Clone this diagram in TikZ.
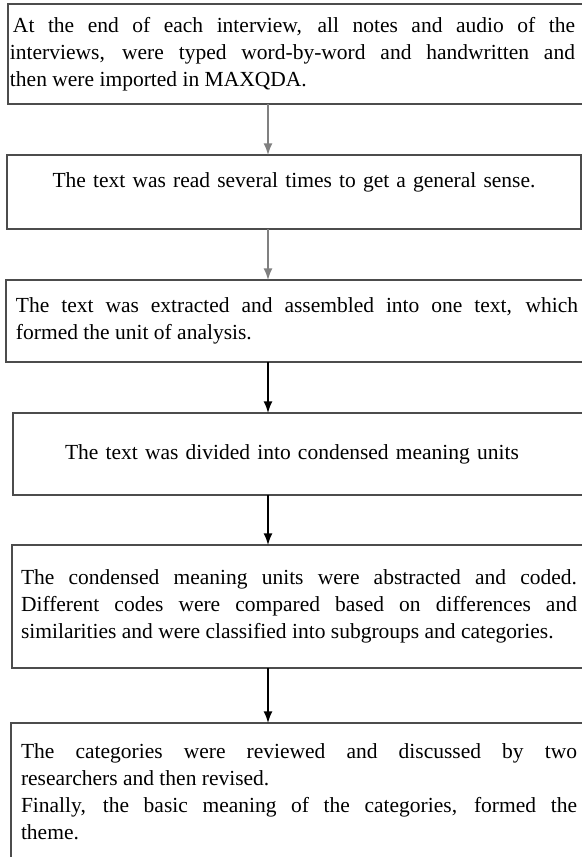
\documentclass[tikz,border=0pt]{standalone}
\usepackage{fontspec}
\setmainfont{Liberation Serif}
\usepackage{tikz}
\tolerance=9999
\hyphenpenalty=10000
\exhyphenpenalty=10000
\tikzset{rpad/.style={execute at begin node={\advance\rightskip by #1}}}

\begin{document}
\begin{tikzpicture}[every node/.style={draw=black!70,outer sep=0pt,line width=0.75pt}]
\tikzstyle{stage}=[anchor=north west,inner ysep=0pt,align=justify,font=\fontsize{10.75pt}{13.4pt}\selectfont]
\tikzstyle{flow}=[line width=1pt,-latex]

\useasboundingbox (0,0) rectangle (291pt,-428.5pt);
\clip (0,0) rectangle (291pt,-428.5pt);

\coordinate (spine) at (134pt,0);

\node (typed) at (4pt,-2pt) [stage,text width=304pt,inner xsep=1pt,minimum height=50pt,rpad=21.5pt] {\hspace*{1.5pt}At the end of each interview, all notes and audio of the\linebreak interviews, were typed word-by-word and handwritten and\linebreak then were imported in MAXQDA.};

\node (read) at (typed.south west) [stage,xshift=-0.5pt,yshift=-25.5pt,text width=285pt,inner xsep=1pt,minimum height=37pt,align=center,text depth=11.5pt] {The text was read several times to get a general sense.};

\node (extracted) at (read.south west) [stage,xshift=-0.5pt,yshift=-25.5pt,text width=297pt,inner xsep=5pt,minimum height=41pt,rpad=16pt] {The text was extracted and assembled into one text, which\linebreak formed the unit of analysis.};

\node (divided) at (extracted.south west) [stage,xshift=3.5pt,yshift=-25.5pt,text width=301.5pt,inner xsep=1pt,minimum height=41pt,align=center,rpad=24.5pt] {The text was divided into condensed meaning units};

\node (coded) at (divided.south west) [stage,xshift=-0.5pt,yshift=-25pt,text width=295pt,inner xsep=4.5pt,minimum height=61.5pt,rpad=17pt] {The condensed meaning units were abstracted and coded.\linebreak Different codes were compared based on differences and\linebreak similarities and were classified into subgroups and categories.};

\node (theme) at (coded.south west) [stage,xshift=-0.5pt,yshift=-27.5pt,text width=294.5pt,inner xsep=5pt,minimum height=68.5pt,rpad=16.5pt] {The categories were reviewed and discussed by two\linebreak researchers and then revised.\\Finally, the basic meaning of the categories, formed the\linebreak theme.};

\draw [flow,gray] (typed.south -| spine) -- (read.north -| spine);
\draw [flow,gray] (read.south -| spine) -- (extracted.north -| spine);
\draw [flow] (extracted.south -| spine) -- (divided.north -| spine);
\draw [flow] (divided.south -| spine) -- (coded.north -| spine);
\draw [flow] (coded.south -| spine) -- (theme.north -| spine);
\end{tikzpicture}
\end{document}
